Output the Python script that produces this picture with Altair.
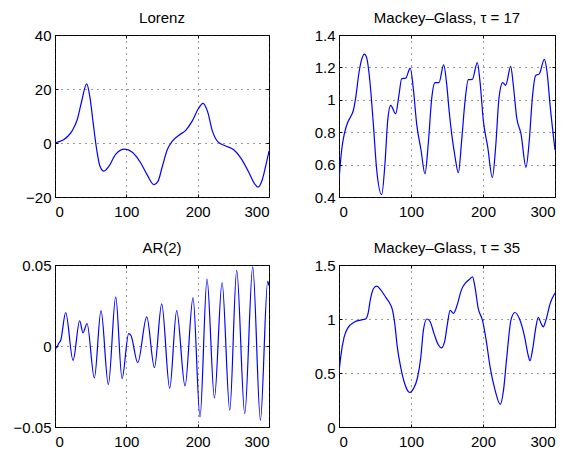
import altair as alt
import pandas as pd

# ---------------- data ----------------
lorenz_t = [0, 6, 12, 18, 24, 31, 37, 44.4, 49, 53.7, 58.4, 63, 68.7, 75.7, 85, 97.7,
            108.4, 120, 129.4, 138.8, 144.4, 150.5, 157.5, 164.5, 173.8, 183.2, 192.5,
            200.5, 207.5, 213.6, 220.6, 228.5, 239.3, 251, 260.3, 272, 279, 284.6,
            290.7, 295.3, 300]
lorenz_v = [0, 0.5, 1.2, 2.5, 4.5, 8.5, 15, 21.9, 16.9, 7, -2.4, -8.6, -10.4, -8.6, -4.2,
            -2.3, -3.4, -7.3, -11.9, -15.4, -14.2, -8.6, -2.4, 0.7, 2.9, 4.7, 8.2,
            12.5, 14.7, 11.9, 4.5, 0.4, -1.1, -2.6, -5.5, -11, -14.8, -16.3,
            -13.5, -8.6, -3]

mg17_t = [0, 3.7, 7.4, 12, 16.7, 19.9, 23.1, 27.8, 31.5, 35.2, 38.4, 43, 47.7, 52.3,
          59.3, 63.9, 67.6, 71.8, 78.7, 83.3, 87, 92.6, 99, 103.2, 107.9, 113.9,
          119.4, 124, 128.8, 133.3, 138.9, 145.4, 149.5, 153, 156.5, 161.1, 165.8,
          170.4, 175, 179.6, 185.2, 192.1, 195.9, 200.5, 206.5, 213, 217.6, 222.2,
          227.3, 231.5, 238.5, 242.1, 246.8, 252.8, 259.7, 264.3, 268.5, 273.2,
          278.2, 285.2, 289, 293.1, 300]
mg17_v = [0.505, 0.69, 0.79, 0.86, 0.90, 0.934, 1.01, 1.17, 1.25, 1.282, 1.26, 1.11,
          0.85, 0.57, 0.415, 0.61, 0.87, 0.966, 0.914, 1.03, 1.13, 1.134, 1.196,
          1.07, 0.85, 0.69, 0.543, 0.73, 1.01, 1.106, 1.106, 1.216, 1.1, 0.93, 0.79,
          0.65, 0.55, 0.75, 0.99, 1.124, 1.126, 1.23, 1.11, 0.87, 0.71, 0.52, 0.71,
          1.01, 1.106, 1.09, 1.206, 1.09, 0.89, 0.79, 0.583, 0.75, 1.01, 1.15, 1.16,
          1.25, 1.17, 0.97, 0.69]

ar2_t = [0, 2, 5, 8, 15, 25.3, 34.6, 39.3, 44.9, 55.2, 64.5, 74.8, 85.1, 94, 103.3,
         106.5, 116, 128.6, 139.4, 149.6, 160.8, 170.6, 182.3, 193.5, 203.3, 213.1,
         223.5, 234.2, 245, 254.7, 266, 277.2, 288, 298.2, 300]
ar2_v = [-0.0005, -0.0012, 0.0015, 0.0035, 0.0206, -0.0089, 0.0156, 0.0081, 0.0139,
         -0.0197, 0.0218, -0.0238, 0.0303, -0.0201, 0.0077, 0.0065, -0.0103, 0.018,
         -0.0133, 0.026, -0.0262, 0.0218, -0.0247, 0.0299, -0.0438, 0.0413, -0.0321,
         0.0392, -0.0396, 0.0467, -0.0417, 0.0488, -0.0458, 0.0399, 0.0372]

mg35_t = [0, 2.3, 7, 12.5, 21, 30, 37, 40.3, 44, 47.8, 52.4, 58, 65, 71, 74, 77.4, 81,
          85.8, 91.3, 96, 98.7, 103.4, 109, 113.6, 117.3, 122, 126.6, 132, 137.7,
          142.3, 147, 150.7, 154.4, 159, 164.6, 170, 176, 181.7, 185.4, 189, 193.3,
          199.4, 204, 210, 216.6, 224, 228.6, 233, 238.8, 244.3, 250.3, 257.3, 262.9,
          265.2, 269, 273.5, 276.8, 280.5, 283.7, 287.4, 293.5, 300]
mg35_v = [0.503, 0.645, 0.83, 0.92, 0.97, 0.99, 1.0, 1.05, 1.195, 1.28, 1.305, 1.27,
          1.20, 1.14, 1.09, 0.96, 0.74, 0.55, 0.40, 0.33, 0.32, 0.355, 0.456, 0.645,
          0.90, 1.0, 0.975, 0.865, 0.764, 0.733, 0.80, 0.96, 1.08, 1.053, 1.14, 1.27,
          1.336, 1.37, 1.39, 1.29, 1.10, 0.985, 0.82, 0.55, 0.346, 0.21, 0.346, 0.645,
          0.99, 1.06, 1.006, 0.85, 0.66, 0.613, 0.723, 0.928, 1.016, 0.96, 0.928, 0.99,
          1.148, 1.24]

x_ticks = [0, 100, 200, 300]
lorenz_ticks = [-20, 0, 20, 40]
mg17_ticks = [0.4, 0.6, 0.8, 1.0, 1.2, 1.4]
ar2_ticks = [-0.05, 0, 0.05]
mg35_ticks = [0, 0.5, 1.0, 1.5]

titles = ["Lorenz", "Mackey\u2013Glass, \u03c4 = 17", "AR(2)", "Mackey\u2013Glass, \u03c4 = 35"]

FONT = "Liberation Sans"
TICK_IN = {"expr": "-3"}


def panel(t, v, title, yticks, w, h):
    df = pd.DataFrame({"t": t, "v": v})
    xs = alt.Scale(domain=[x_ticks[0], x_ticks[-1]], nice=False, zero=False)
    ys = alt.Scale(domain=[yticks[0], yticks[-1]], nice=False, zero=False)
    base = alt.Chart(df)
    main = base.mark_line(color="#0000ff", strokeWidth=1.2, interpolate="monotone",
                          clip=True).encode(
        x=alt.X("t:Q", scale=xs,
                axis=alt.Axis(values=x_ticks, title=None, labelPadding=10,
                              tickSize=TICK_IN, grid=True)),
        y=alt.Y("v:Q", scale=ys,
                axis=alt.Axis(values=yticks, title=None, format="~r", labelPadding=7,
                              tickSize=TICK_IN, grid=True)),
    )
    # invisible twin, only to carry the top/right tick marks of the box
    twin = base.mark_line(opacity=0, clip=True).encode(
        x=alt.X("t:Q", scale=xs,
                axis=alt.Axis(values=x_ticks, title=None, orient="top", labels=False,
                              tickSize=TICK_IN, grid=False)),
        y=alt.Y("v:Q", scale=ys,
                axis=alt.Axis(values=yticks, title=None, orient="right", labels=False,
                              tickSize=TICK_IN, grid=False)),
    )
    return (
        alt.layer(main, twin)
        .resolve_axis(x="independent", y="independent")
        .properties(width=w, height=h,
                    title=alt.TitleParams(title, fontSize=15, fontWeight="normal",
                                          font=FONT, color="black", offset=2))
    )


p1 = panel(lorenz_t, lorenz_v, titles[0], lorenz_ticks, 214, 162)
p2 = panel(mg17_t, mg17_v, titles[1], mg17_ticks, 216, 162)
p3 = panel(ar2_t, ar2_v, titles[2], ar2_ticks, 214, 162)
p4 = panel(mg35_t, mg35_v, titles[3], mg35_ticks, 216, 162)

chart = (
    alt.concat(p1, p2, p3, p4, columns=2, spacing={"row": 68, "column": 70}, bounds="flush")
    .properties(padding={"left": 4, "top": 2, "right": 0, "bottom": 0}, background="white")
    .configure_view(stroke="black", strokeWidth=1)
    .configure_axis(
        labelFont=FONT, labelFontSize=15, labelColor="black",
        gridColor="#333333", gridDash=[1, 5], gridWidth=1, gridOpacity=1,
        domain=False, ticks=True, tickColor="black", tickWidth=1,
    )
)

chart.save("out.html", embed_options={"renderer": "svg", "actions": False})
